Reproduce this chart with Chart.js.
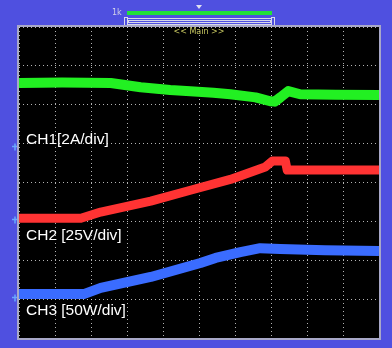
<!DOCTYPE html>
<html>
<head>
<meta charset="utf-8">
<script src="https://cdn.jsdelivr.net/npm/chart.js@4.4.0/dist/chart.umd.min.js"></script>
<style>
  html, body { margin: 0; padding: 0; background: #4f50e0; }
  #wrap { width: 392px; height: 348px; }
</style>
</head>
<body>
<div id="wrap"><canvas id="scope" width="392" height="348"></canvas></div>
<script>
// positions are in screen divisions: time 0..10, amplitude 0..8
const ch1X = [0, 1.2, 2.55, 3.38, 4.2, 4.76, 5.4, 5.87, 6.57, 6.98, 7.1, 7.26, 7.48, 7.81, 8.8, 10];
const ch1Y = [6.56, 6.57, 6.56, 6.45, 6.38, 6.35, 6.31, 6.27, 6.19, 6.09, 6.08, 6.19, 6.35, 6.27, 6.26, 6.25];

const ch2X = [0, 1.72, 2.27, 3.66, 4.76, 5.87, 6.84, 7.04, 7.40, 7.45, 10];
const ch2Y = [3.08, 3.08, 3.24, 3.52, 3.80, 4.08, 4.40, 4.55, 4.55, 4.32, 4.32];

const ch3X = [0, 1.80, 2.27, 3.66, 5.04, 5.46, 6.15, 6.70, 7.26, 8.5, 10];
const ch3Y = [1.13, 1.13, 1.29, 1.57, 1.93, 2.06, 2.21, 2.31, 2.29, 2.26, 2.24];

const chLabels = ['CH1[2A/div]', 'CH2 [25V/div]', 'CH3 [50W/div]'];
const chLabelLevel = [5.1, 2.63, 0.69];
const chGroundLevel = [4.95, 3.05, 1.05];

function pairs(xs, ys) {
  return xs.map((x, i) => ({ x: x, y: ys[i] }));
}

const scopeFrame = {
  id: 'scopeFrame',
  beforeDraw(chart) {
    const ctx = chart.ctx;
    const a = chart.chartArea;
    ctx.save();
    ctx.fillStyle = '#4f50e0';
    ctx.fillRect(0, 0, chart.width, chart.height);
    ctx.fillStyle = '#000';
    ctx.fillRect(a.left, a.top, a.right - a.left, a.bottom - a.top);

    // top zoom bar
    ctx.fillStyle = '#d0d0e8';
    ctx.font = '8px "DejaVu Sans"';
    ctx.textBaseline = 'middle';
    ctx.fillText('1k', 112, 13);
    ctx.fillStyle = '#22e03a';
    ctx.fillRect(127, 11, 145, 4);
    ctx.fillStyle = '#e0e0f0';
    ctx.beginPath();
    ctx.moveTo(196, 5); ctx.lineTo(202, 5); ctx.lineTo(199, 9); ctx.closePath();
    ctx.fill();
    ctx.strokeStyle = '#d8d8ec';
    ctx.lineWidth = 1;
    ctx.strokeRect(127.5, 18.5, 144, 6);
    ctx.strokeRect(128.5, 20.5, 142, 2);
    ctx.strokeRect(124.5, 17.5, 3, 8);
    ctx.strokeRect(271.5, 17.5, 3, 8);
    ctx.restore();
  },
  afterDatasetsDraw(chart) {
    const ctx = chart.ctx;
    const a = chart.chartArea;
    const y = chart.scales.y;
    ctx.save();
    ctx.fillStyle = '#c8c860';
    ctx.font = '8px "DejaVu Sans"';
    ctx.textAlign = 'center';
    ctx.textBaseline = 'middle';
    ctx.fillText('<< Main >>', 199, 32);

    ctx.textAlign = 'left';
    ctx.fillStyle = '#ffffff';
    ctx.font = '15.5px "Liberation Sans", Arial';
    chLabels.forEach((t, i) => ctx.fillText(t, a.left + 7, y.getPixelForValue(chLabelLevel[i])));

    // ground markers
    ctx.strokeStyle = '#6aa8ff';
    ctx.lineWidth = 1.5;
    chGroundLevel.forEach(v => {
      const py = Math.round(y.getPixelForValue(v)) + 0.5;
      ctx.beginPath();
      ctx.moveTo(12, py); ctx.lineTo(18, py);
      ctx.moveTo(15, py - 3); ctx.lineTo(15, py + 4);
      ctx.stroke();
    });

    ctx.strokeStyle = '#a8a8c8';
    ctx.lineWidth = 2;
    ctx.strokeRect(a.left - 1, a.top - 1, a.right - a.left + 2, a.bottom - a.top + 2);
    ctx.restore();
  }
};

const gridOpts = {
  color: 'rgba(210,210,210,0.85)',
  lineWidth: 1,
  drawTicks: false
};

new Chart(document.getElementById('scope'), {
  type: 'line',
  data: {
    datasets: [
      { label: 'CH1', data: pairs(ch1X, ch1Y), borderColor: '#22f022', borderWidth: 10 },
      { label: 'CH2', data: pairs(ch2X, ch2Y), borderColor: '#ff3333', borderWidth: 9 },
      { label: 'CH3', data: pairs(ch3X, ch3Y), borderColor: '#3a6cff', borderWidth: 10 }
    ]
  },
  options: {
    responsive: false,
    animation: false,
    devicePixelRatio: 1,
    layout: { padding: { left: 19, top: 27, right: 13, bottom: 10 } },
    elements: { point: { radius: 0 }, line: { tension: 0, borderJoinStyle: 'round' } },
    plugins: { legend: { display: false }, tooltip: { enabled: false } },
    scales: {
      x: {
        type: 'linear', min: 0, max: 10,
        ticks: { display: false, stepSize: 1 },
        grid: gridOpts,
        border: { display: false, dash: [1, 3] }
      },
      y: {
        min: 0, max: 8,
        ticks: { display: false, stepSize: 1 },
        grid: gridOpts,
        border: { display: false, dash: [1, 3] }
      }
    }
  },
  plugins: [scopeFrame]
});
</script>
</body>
</html>
